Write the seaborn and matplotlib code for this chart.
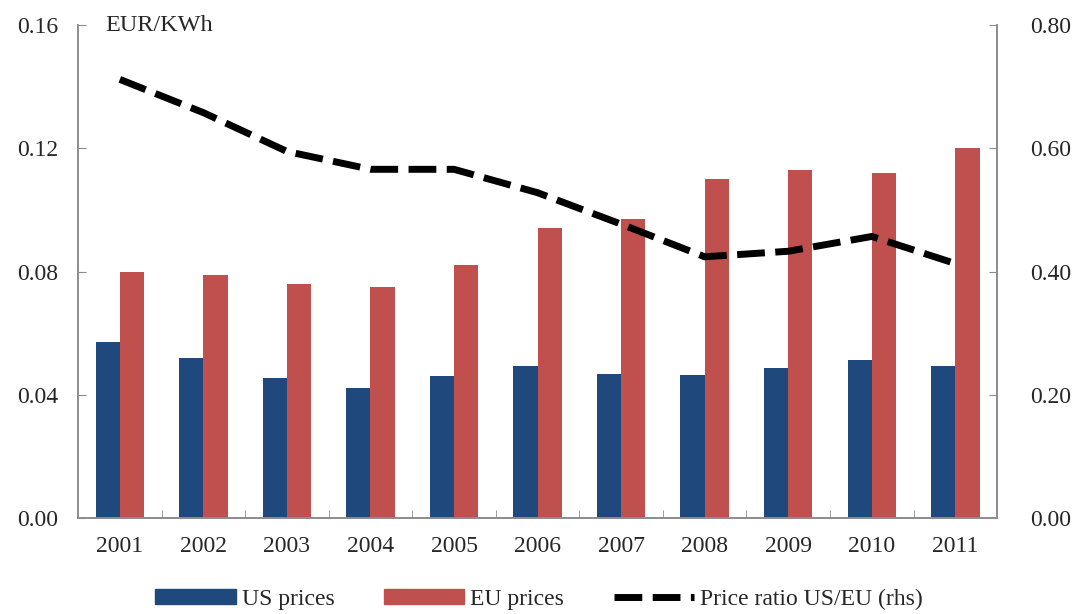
import numpy as np
import pandas as pd
import matplotlib
matplotlib.use('Agg')
import matplotlib.pyplot as plt
import seaborn as sns

years = ['2001', '2002', '2003', '2004', '2005', '2006', '2007', '2008', '2009', '2010', '2011']
us_prices = [0.057, 0.052, 0.0455, 0.0422, 0.0462, 0.0492, 0.0466, 0.0463, 0.0488, 0.0513, 0.0495]
eu_prices = [0.080, 0.079, 0.076, 0.075, 0.082, 0.094, 0.097, 0.110, 0.113, 0.112, 0.120]
ratio = [0.712, 0.658, 0.595, 0.566, 0.566, 0.528, 0.477, 0.424, 0.433, 0.457, 0.413]

blue = '#1f497d'
red = '#c0504d'
grey = '#8c8c8c'
fs = 17

sns.set_style('white')
plt.rcParams['font.family'] = ['Liberation Serif', 'DejaVu Serif']

df = pd.DataFrame({
    'year': years * 2,
    'price': us_prices + eu_prices,
    'series': ['US prices'] * len(years) + ['EU prices'] * len(years),
})

fig = plt.figure(figsize=(10.78, 6.14), dpi=100)
ax = fig.add_axes([0.0724, 0.1564, 0.8526, 0.8026])

sns.barplot(data=df, x='year', y='price', hue='series', palette=[blue, red],
            width=0.58, gap=0, saturation=1, linewidth=0, ax=ax, legend=False)
ax.set_ylim(0, 0.16)
ax.set_xlim(-0.5, len(years) - 0.5)
ax.set_yticks(np.arange(0, 0.161, 0.04))
ax.set_yticklabels([f'{v:.2f}' for v in np.arange(0, 0.161, 0.04)])
ax.set_xlabel('')
ax.set_ylabel('')

# tick marks between the categories
ax.set_xticks(np.arange(0.5, len(years) - 0.5, 1), minor=True)
ax.tick_params(axis='x', which='major', length=0, labelsize=fs, pad=13)
ax.tick_params(axis='x', which='minor', length=6, direction='in', color=grey, bottom=True)
ax.tick_params(axis='y', length=6, direction='in', color=grey, labelsize=fs, left=True, pad=14)

ax2 = ax.twinx()
dash = (0, (4, 1.5))
sns.lineplot(x=np.arange(len(years)), y=ratio, ax=ax2, color='black', lw=5,
             dashes=False, linestyle=dash)
ax2.set_ylim(0, 0.8)
ax2.set_yticks(np.arange(0, 0.81, 0.2))
ax2.set_yticklabels([f'{v:.2f}' for v in np.arange(0, 0.81, 0.2)])
ax2.tick_params(axis='y', length=6, direction='in', color=grey, labelsize=fs, right=True, pad=24)

for a in (ax, ax2):
    a.spines['top'].set_visible(False)
    for s in ('left', 'right', 'bottom'):
        a.spines[s].set_color(grey)
        a.spines[s].set_linewidth(1.2)

ax.text(0.03, 1.02, 'EUR/KWh', transform=ax.transAxes, fontsize=fs + 0.5, va='top', ha='left')

handles = [
    plt.Rectangle((0, 0), 1, 1, color=blue),
    plt.Rectangle((0, 0), 1, 1, color=red),
    plt.Line2D([0], [0], color='black', lw=5, linestyle=dash),
]
fig.legend(handles, ['US prices', 'EU prices', 'Price ratio US/EU (rhs)'],
           loc='center', bbox_to_anchor=(0.5, 0.024), ncol=3, frameon=False,
           fontsize=fs, handlelength=3.4, handleheight=0.6, columnspacing=2.1,
           handletextpad=0.25, borderpad=0)

fig.savefig('out.png', dpi=100)
